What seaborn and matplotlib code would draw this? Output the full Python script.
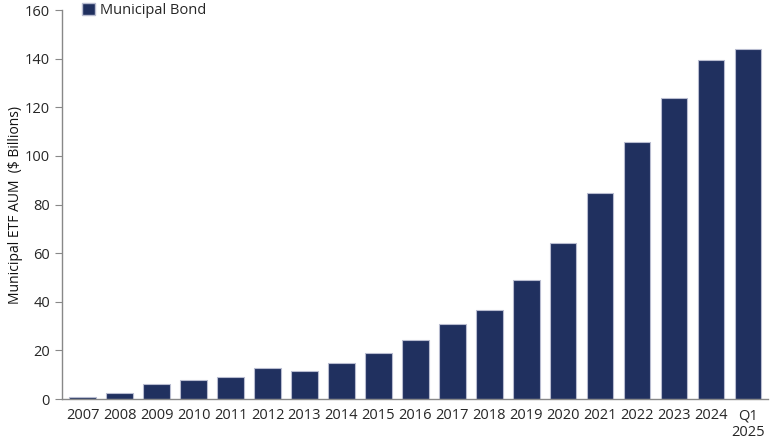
import matplotlib
matplotlib.use('Agg')
import matplotlib.pyplot as plt
from matplotlib.patches import Patch
import seaborn as sns
import pandas as pd

years = ['2007', '2008', '2009', '2010', '2011', '2012', '2013', '2014', '2015',
         '2016', '2017', '2018', '2019', '2020', '2021', '2022', '2023', '2024',
         'Q1\n2025']
aum = [0.7, 2.3, 6.0, 7.7, 9.0, 12.8, 11.4, 14.9, 19.0,
       24.5, 30.7, 36.7, 48.8, 64.0, 84.8, 105.6, 123.9, 139.6, 144.0]

df = pd.DataFrame({'year': years, 'aum': aum})

sns.set_style('white')
plt.rcParams['font.family'] = ['Open Sans', 'DejaVu Sans']

navy = '#20305f'

fig, ax = plt.subplots(figsize=(7.8, 4.4), dpi=100)
fig.subplots_adjust(left=0.08, right=0.985, top=0.977, bottom=0.093)

sns.barplot(data=df, x='year', y='aum', color=navy, width=0.72, saturation=1,
            edgecolor='#b8bcd0', linewidth=0.8, ax=ax)

ax.set_ylim(0, 160)
ax.set_yticks(range(0, 161, 20))
ax.set_xlim(-0.55, len(years) - 0.45)
ax.set_xlabel('')
ax.set_ylabel('Municipal ETF AUM  ($ Billions)', fontsize=10, color='#111111', labelpad=1)

for side in ['top', 'right']:
    ax.spines[side].set_visible(False)
for side in ['left', 'bottom']:
    ax.spines[side].set_color('#888888')
    ax.spines[side].set_linewidth(1)

ax.tick_params(axis='y', left=True, length=5, color='#888888', labelsize=10.5, pad=4)
ax.tick_params(axis='x', bottom=False, labelsize=10.5, pad=3)

handles = [Patch(facecolor=navy, edgecolor='#b8bcd0', label='Municipal Bond')]
ax.legend(handles=handles, loc='center left', bbox_to_anchor=(0.028, 1.0),
          frameon=False, fontsize=10.5, handlelength=0.9, handleheight=0.9,
          handletextpad=0.3, borderaxespad=0, borderpad=0)

fig.savefig('out.png', dpi=100)
